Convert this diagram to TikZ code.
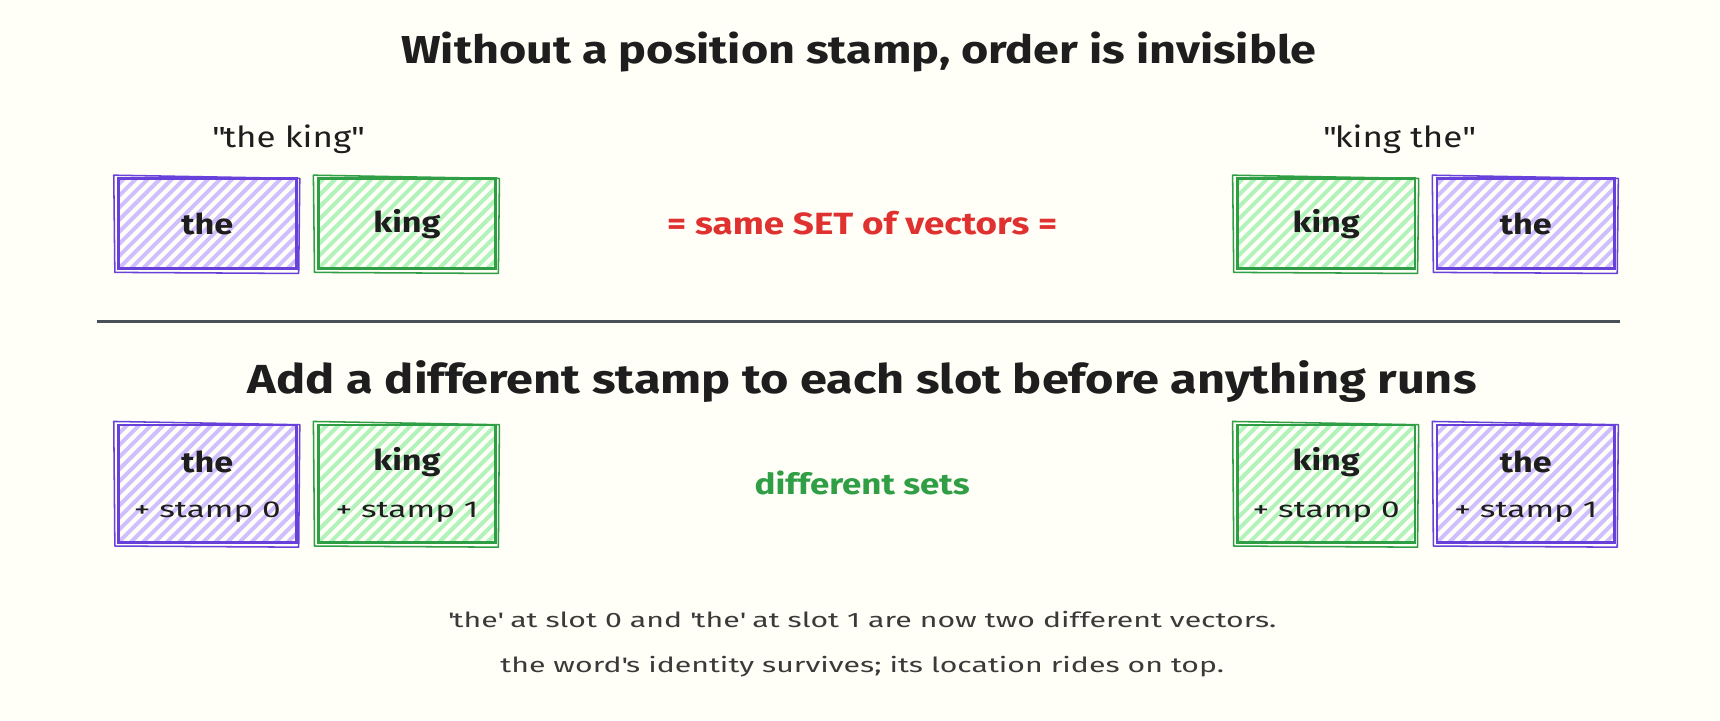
\documentclass[tikz,border=0pt]{standalone}
\usepackage{fontspec}
\setmainfont{Fira Sans}[FakeStretch=1.2]
\newfontfamily\widefont{Fira Sans}[FakeStretch=1.45]
\usetikzlibrary{calc}
\definecolor{bg}{HTML}{FFFEF7}
\definecolor{ink}{HTML}{1E1E1E}
\definecolor{violetS}{HTML}{6741D9}
\definecolor{violetF}{HTML}{D0BFFF}
\definecolor{greenS}{HTML}{2F9E44}
\definecolor{greenF}{HTML}{B2F2BB}
\definecolor{redT}{HTML}{E03131}
\definecolor{grayL}{HTML}{495057}
\definecolor{noteT}{HTML}{3A3A3A}
\tikzset{
  hatchbox/.style n args={2}{draw=#1, line width=2.6pt, minimum width=162pt, inner sep=0pt,
    path picture={\foreach \k in {-11,...,16}{\draw[#2, line width=3.6pt]
      ($(path picture bounding box.south west)+(\k*11pt,0)$) -- ++(-160pt,-160pt) -- ++(400pt,400pt);}}},
  pbox/.style={hatchbox={violetS}{violetF}},
  gbox/.style={hatchbox={greenS}{greenF}},
  rowa/.style={minimum height=82pt},
  rowb/.style={minimum height=107pt},
  word/.style={font=\bfseries\fontsize{26}{30}\selectfont, text=ink},
  stamp/.style={font=\widefont\fontsize{21}{25}\selectfont, text=ink},
  title/.style={font=\bfseries\fontsize{35.5}{40}\selectfont, text=ink},
  quote/.style={font=\fontsize{26.5}{31}\selectfont, text=ink},
  note/.style={font=\widefont\fontsize{19}{23}\selectfont, text=noteT},
  sk/.style={line width=1.4pt, line join=round},
}
\newcommand{\sketchbox}[2]{%
  \draw[sk,#2] ($(#1.north west)+(-3,-2)$) -- ($(#1.north east)+(2,1)$) -- ($(#1.south east)+(1,3)$) -- ($(#1.south west)+(-2,2)$) -- cycle;}
\begin{document}
\begin{tikzpicture}[x=1pt,y=-1pt]
\fill[bg] (0,0) rectangle (1568,656.4);

\node[title] (t1) at (783,47) {Without a position stamp, order is invisible};
\node[quote] (q1) at (262,127) {\textquotedbl the king\textquotedbl};
\node[quote] (q2) at (1275,127) {\textquotedbl king the\textquotedbl};

\node[pbox,rowa] (a1) at (189,204) {};
\node[gbox,rowa] (a2) at (371,204) {};
\node[gbox,rowa] (a3) at (1209,204) {};
\node[pbox,rowa] (a4) at (1391,204) {};
\sketchbox{a1}{violetS}
\sketchbox{a2}{greenS}
\sketchbox{a3}{greenS}
\sketchbox{a4}{violetS}
\node[word] (wa1) at (a1.center) {the};
\node[word] (wa2) at (a2.center) {king};
\node[word] (wa3) at (a3.center) {king};
\node[word] (wa4) at (a4.center) {the};

\node[font=\bfseries\fontsize{28}{32}\selectfont, text=redT] (same) at (786,203) {= same SET of vectors =};

\coordinate (l1) at (88,293);
\coordinate (l2) at (1477,293);
\draw[grayL, line width=2.6pt] (l1) -- (l2);

\node[font=\bfseries\fontsize{37}{42}\selectfont, text=ink] (t2) at (786,348) {Add a different stamp to each slot before anything runs};

\node[pbox,rowb] (b1) at (189,441) {};
\node[gbox,rowb] (b2) at (371,441) {};
\node[gbox,rowb] (b3) at (1209,441) {};
\node[pbox,rowb] (b4) at (1391,441) {};
\sketchbox{b1}{violetS}
\sketchbox{b2}{greenS}
\sketchbox{b3}{greenS}
\sketchbox{b4}{violetS}
\node[word] (wb1) at ($(b1.center)+(0,-20)$) {the};
\node[word] (wb2) at ($(b2.center)+(0,-20)$) {king};
\node[word] (wb3) at ($(b3.center)+(0,-20)$) {king};
\node[word] (wb4) at ($(b4.center)+(0,-20)$) {the};
\node[stamp] (sb1) at ($(b1.center)+(0,26)$) {+ stamp 0};
\node[stamp] (sb2) at ($(b2.center)+(0,26)$) {+ stamp 1};
\node[stamp] (sb3) at ($(b3.center)+(0,26)$) {+ stamp 0};
\node[stamp] (sb4) at ($(b4.center)+(0,26)$) {+ stamp 1};

\node[font=\bfseries\fontsize{26.5}{30}\selectfont, text=greenS] (diff) at (786,440) {different sets};

\node[note] (n1) at (786,565) {\textquotesingle the\textquotesingle{} at slot 0 and \textquotesingle the\textquotesingle{} at slot 1 are now two different vectors.};
\node[note] (n2) at (786,608) {the word\textquotesingle s identity survives; its location rides on top.};

\pgfresetboundingbox
\useasboundingbox (0,0) rectangle (1568,656.4);
\end{tikzpicture}
\end{document}
